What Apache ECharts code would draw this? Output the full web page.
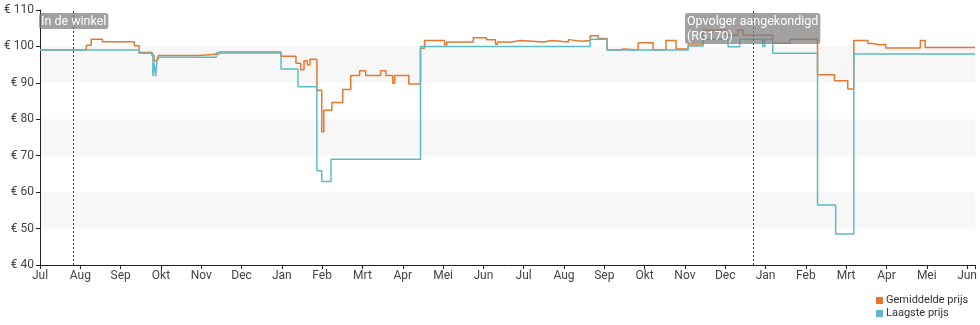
<!DOCTYPE html>
<html>
<head>
<meta charset="utf-8">
<script src="https://cdn.jsdelivr.net/npm/echarts@6/dist/echarts.min.js"></script>
<style>
  html, body { margin: 0; padding: 0; background: #fff; }
  #chart { width: 980px; height: 325px; }
</style>
</head>
<body>
<div id="chart"></div>
<script>
// Month labels for the x axis (index 0 = Jul of first year)
const monthLabels = ['Jul','Aug','Sep','Okt','Nov','Dec','Jan','Feb','Mrt','Apr','Mei','Jun',
                     'Jul','Aug','Sep','Okt','Nov','Dec','Jan','Feb','Mrt','Apr','Mei','Jun'];
const yTicks = [40, 50, 60, 70, 80, 90, 100, 110];

// [month index, price] – each value holds until the next point
const avgPrice = [
  [0,99],[1.15,100.3],[1.27,102],[1.55,101.3],[2.34,100.2],[2.46,98.3],[2.78,97.5],[2.83,96.0],
  [2.88,96.5],[2.93,97.5],[3.95,97.9],[4.44,98.5],[5.98,97.3],[6.35,95.4],[6.47,93.6],[6.55,96.1],
  [6.63,95.0],[6.70,96.5],[6.87,88.0],[6.99,76.6],[7.04,82.5],[7.24,84.6],[7.51,88.2],[7.71,92.0],
  [7.93,93.3],[8.08,92.0],[8.45,93.3],[8.58,92.0],[8.75,89.9],[8.80,92.0],[9.15,89.7],[9.44,99.5],
  [9.54,101.6],[10.04,100.4],[10.09,101.2],[10.75,102.4],[11.08,101.8],[11.30,100.6],[11.35,101.2],
  [11.70,101.6],[11.92,101.2],[12.49,101.6],[12.69,101.2],[13.11,101.8],[13.16,101.4],[13.43,101.6],
  [13.65,102.9],[13.85,102.2],[14.07,99.0],[14.37,99.3],[14.49,99.0],[14.84,101.0],[15.21,99.0],
  [15.53,101.6],[15.78,99.3],[16.08,100.4],[16.45,104.5],[17.02,103.1],[17.31,104.5],[17.44,103.1],
  [18.18,100.9],[18.60,102.0],[19.29,92.2],[19.71,90.6],[20.04,88.3],[20.19,101.6],[20.54,100.8],
  [20.66,100.4],[20.83,100.6],[20.98,99.6],[21.84,101.6],[21.96,99.7],[23.2,99.7]
];
const lowPrice = [
  [0,99],[2.46,98.1],[2.80,91.8],[2.83,95.5],[2.87,91.8],[2.91,97.0],[4.37,98.2],[5.98,93.8],
  [6.40,88.9],[6.87,65.9],[6.99,62.9],[7.22,69.0],[9.44,100],[13.65,102],[14.07,99],[16.08,100.1],
  [16.45,102],[17.07,99.9],[17.36,102],[17.93,100],[17.98,102],[18.18,98.1],[19.29,56.5],
  [19.74,48.5],[20.19,97.9],[23.2,97.9]
];

// Events (vertical dotted lines with labels)
const eventAt = [0.83, 17.69];
const eventText = ['In de winkel', 'Opvolger aangekondigd\n(RG170)'];

const FONT = 'Roboto';
const chart = echarts.init(document.getElementById('chart'), null, { renderer: 'canvas' });

const option = {
  animation: false,
  backgroundColor: '#fff',
  textStyle: { fontFamily: FONT },
  grid: { left: 40, right: 2, top: 10, bottom: 60, containLabel: false },
  legend: {
    orient: 'vertical',
    left: 871,
    top: 290,
    itemWidth: 7,
    itemHeight: 7,
    itemGap: 2,
    icon: 'rect',
    textStyle: { fontFamily: FONT, fontSize: 11, color: '#333', padding: [0, 0, 0, -2] },
    data: ['Gemiddelde prijs', 'Laagste prijs']
  },
  xAxis: {
    type: 'value',
    min: 0,
    max: 23.2,
    interval: 1,
    axisLine: { show: true, lineStyle: { color: '#222', width: 1 } },
    axisTick: { show: true, length: 4, lineStyle: { color: '#222' } },
    axisLabel: {
      color: '#444', fontFamily: FONT, fontSize: 12, margin: 5,
      formatter: v => (Number.isInteger(v) && monthLabels[v] !== undefined) ? monthLabels[v] : ''
    },
    splitLine: { show: false }
  },
  yAxis: {
    type: 'value',
    min: yTicks[0],
    max: yTicks[yTicks.length - 1],
    interval: 10,
    axisLine: { show: true, lineStyle: { color: '#222', width: 1 } },
    axisTick: { show: true, length: 4, lineStyle: { color: '#222' } },
    axisLabel: { color: '#444', fontFamily: FONT, fontSize: 12, margin: 6, formatter: '€ {value}' },
    splitLine: { show: false },
    splitArea: { show: true, areaStyle: { color: ['rgba(255,255,255,0)', '#f7f7f7'] } }
  },
  series: [
    {
      name: 'Gemiddelde prijs',
      type: 'line',
      step: 'end',
      showSymbol: false,
      symbol: 'none',
      lineStyle: { color: '#e8772e', width: 1.5 },
      itemStyle: { color: '#e8772e' },
      data: avgPrice,
      z: 2
    },
    {
      name: 'Laagste prijs',
      type: 'line',
      step: 'end',
      showSymbol: false,
      symbol: 'none',
      lineStyle: { color: '#5bbcc8', width: 1.5 },
      itemStyle: { color: '#5bbcc8' },
      data: lowPrice,
      z: 3,
      markLine: {
        silent: true,
        symbol: 'none',
        label: { show: false },
        lineStyle: { color: '#333', type: [2, 2], width: 1 },
        data: eventAt.map(x => ({ xAxis: x }))
      }
    }
  ]
};
chart.setOption(option);

// Annotation labels centred on the event lines
const ANN_FONT = '12.5px ' + FONT;
const ctx = document.createElement('canvas').getContext('2d');
ctx.font = ANN_FONT;
const topY = chart.convertToPixel({ yAxisIndex: 0 }, yTicks[yTicks.length - 1]);
const graphics = eventAt.map((x, i) => {
  const px = chart.convertToPixel({ xAxisIndex: 0 }, x);
  const lines = eventText[i].split('\n');
  const w = Math.max(...lines.map(l => ctx.measureText(l).width));
  const padX = 2;
  return {
    type: 'text',
    z: 100,
    left: Math.round(px - w / 2 - padX),
    top: topY + 3,
    style: {
      text: eventText[i],
      fill: '#fff',
      font: ANN_FONT,
      lineHeight: 15,
      backgroundColor: 'rgba(125,125,125,0.72)',
      borderRadius: 3,
      padding: [1, padX, 0, padX],
      align: 'left'
    }
  };
});
chart.setOption({ graphic: graphics });
</script>
</body>
</html>
